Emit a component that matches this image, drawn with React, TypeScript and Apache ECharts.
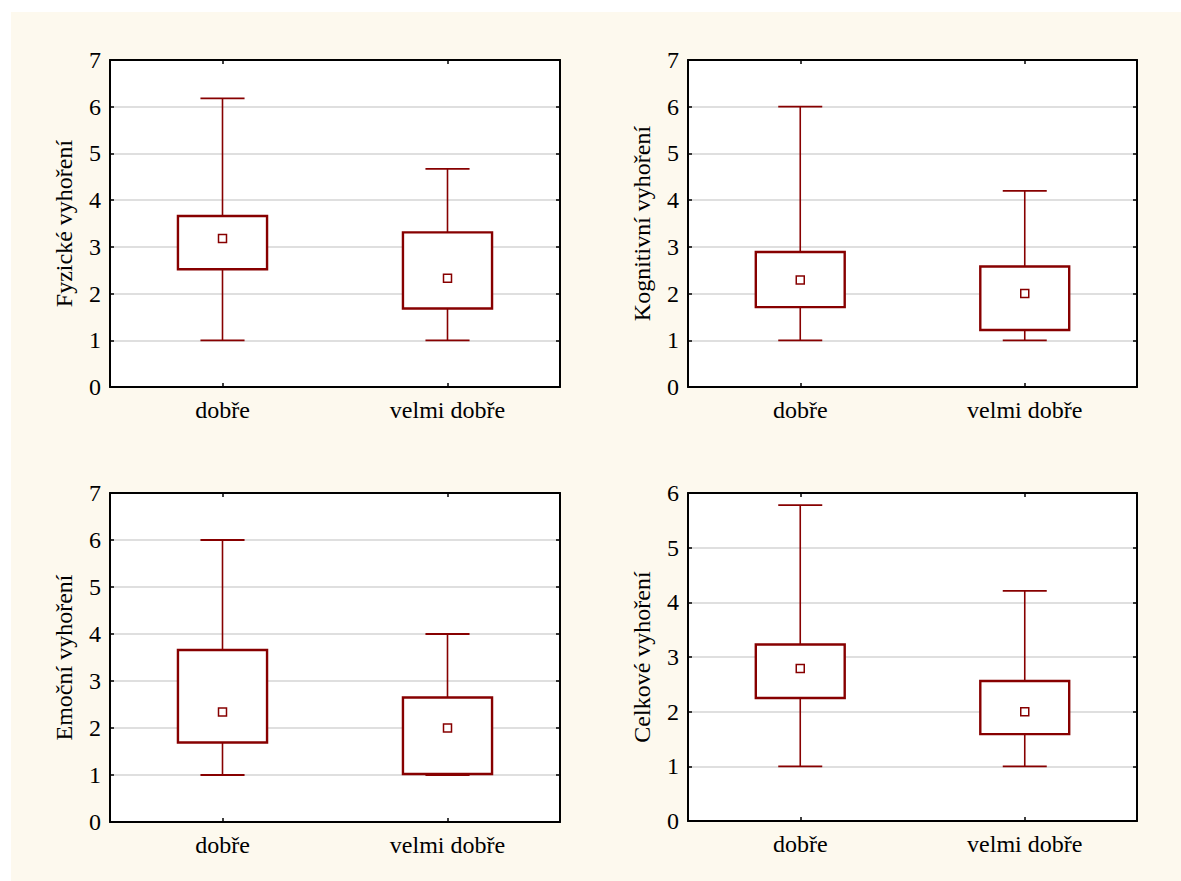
import React, { useEffect, useRef } from "react";
import * as echarts from "echarts";

const categories = ["dobře", "velmi dobře"];
// each row: [min, q1, median, q3, max]
const fyzicke = [
  [1.0, 2.52, 3.18, 3.66, 6.18],
  [1.0, 1.68, 2.33, 3.31, 4.67],
];
const kognitivni = [
  [1.0, 1.71, 2.29, 2.89, 6.0],
  [1.0, 1.22, 2.0, 2.58, 4.2],
];
const emocni = [
  [1.0, 1.69, 2.34, 3.66, 6.0],
  [1.0, 1.02, 2.0, 2.65, 4.0],
];
const celkove = [
  [1.0, 2.25, 2.79, 3.23, 5.78],
  [1.0, 1.59, 2.0, 2.56, 4.21],
];
const panelNames = ["Fyzické vyhoření", "Kognitivní vyhoření", "Emoční vyhoření", "Celkové vyhoření"];
const panelData = [fyzicke, kognitivni, emocni, celkove];
const panelMax = [7, 7, 7, 6];

const RED = "#870000";
const FONT = "'Times New Roman', 'Liberation Serif', Times, serif";

const grids = [
  { left: 99, top: 48, width: 450, height: 327 },
  { left: 677, top: 48, width: 449, height: 327 },
  { left: 99, top: 481, width: 450, height: 329 },
  { left: 677, top: 481, width: 449, height: 328 },
];

function renderBox(params: any, api: any) {
  const idx = api.value(0);
  const cx = api.coord([idx, api.value(1)])[0];
  const yMin = api.coord([idx, api.value(1)])[1];
  const yQ1 = api.coord([idx, api.value(2)])[1];
  const yMed = api.coord([idx, api.value(3)])[1];
  const yQ3 = api.coord([idx, api.value(4)])[1];
  const yMax = api.coord([idx, api.value(5)])[1];
  const band = api.size([1, 0])[0];
  const boxW = band * 0.396;
  const capW = band * 0.196;
  const thin = { stroke: RED, lineWidth: 1.6 };
  return {
    type: "group",
    children: [
      { type: "line", shape: { x1: cx, y1: yQ3, x2: cx, y2: yMax }, style: thin },
      { type: "line", shape: { x1: cx - capW / 2, y1: yMax, x2: cx + capW / 2, y2: yMax }, style: { stroke: RED, lineWidth: 1.8 } },
      { type: "line", shape: { x1: cx, y1: yQ1, x2: cx, y2: yMin }, style: thin },
      { type: "line", shape: { x1: cx - capW / 2, y1: yMin, x2: cx + capW / 2, y2: yMin }, style: { stroke: RED, lineWidth: 1.8 } },
      {
        type: "rect",
        shape: { x: cx - boxW / 2, y: yQ3, width: boxW, height: yQ1 - yQ3 },
        style: { fill: "#ffffff", stroke: RED, lineWidth: 2.4 },
      },
      {
        type: "rect",
        shape: { x: cx - 4, y: yMed - 4, width: 8, height: 8 },
        style: { fill: "#ffffff", stroke: RED, lineWidth: 1.5 },
      },
    ],
  };
}

export default function App() {
  const ref = useRef<HTMLDivElement>(null);
  useEffect(() => {
    if (!ref.current) return;
    const chart = echarts.init(ref.current, null, { renderer: "svg" });
    const xAxis: any[] = [];
    const yAxis: any[] = [];
    const series: any[] = [];
    const tick = { show: true, inside: true, length: 4, lineStyle: { color: "#000", width: 1.5 } };
    const line = { show: true, onZero: false, lineStyle: { color: "#000", width: 2 } };
    grids.forEach((g, i) => {
      xAxis.push({
        gridIndex: i,
        type: "category",
        data: categories,
        position: "bottom",
        axisLine: line,
        axisTick: { ...tick, alignWithLabel: true },
        axisLabel: { fontSize: 24, fontFamily: FONT, color: "#000", margin: 11 },
        splitLine: { show: false },
      });
      xAxis.push({
        gridIndex: i,
        type: "category",
        data: categories,
        position: "top",
        axisLine: line,
        axisTick: { ...tick, alignWithLabel: true },
        axisLabel: { show: false },
        splitLine: { show: false },
      });
      yAxis.push({
        gridIndex: i,
        type: "value",
        min: 0,
        max: panelMax[i],
        interval: 1,
        position: "left",
        name: panelNames[i],
        nameLocation: "middle",
        nameGap: 34,
        nameTextStyle: { fontSize: 24, fontFamily: FONT, color: "#000" },
        axisLine: line,
        axisTick: tick,
        axisLabel: { fontSize: 24, fontFamily: FONT, color: "#000", margin: 9, showMinLabel: true, showMaxLabel: true },
        splitLine: { show: true, showMinLine: false, showMaxLine: false, lineStyle: { color: "#d4d4d4", width: 1.5 } },
      });
      yAxis.push({
        gridIndex: i,
        type: "value",
        min: 0,
        max: panelMax[i],
        interval: 1,
        position: "right",
        axisLine: line,
        axisTick: tick,
        axisLabel: { show: false },
        splitLine: { show: false },
      });
      series.push({
        type: "custom",
        xAxisIndex: 2 * i,
        yAxisIndex: 2 * i,
        renderItem: renderBox,
        encode: { x: 0, y: [1, 2, 3, 4, 5] },
        data: panelData[i].map((r, k) => [k, ...r]),
        z: 10,
      });
    });
    chart.setOption({
      animation: false,
      backgroundColor: "#fdf9ee",
      textStyle: { fontFamily: FONT },
      grid: grids.map((g) => ({ ...g, show: true, backgroundColor: "#ffffff", borderWidth: 0, containLabel: false })),
      xAxis,
      yAxis,
      series,
    });
    return () => chart.dispose();
  }, []);
  return (
    <div style={{ position: "fixed", left: 0, top: 0, width: 1181, height: 881, background: "#ffffff" }}>
      <div ref={ref} style={{ position: "absolute", left: 11, top: 12, width: 1170, height: 869 }} />
    </div>
  );
}
